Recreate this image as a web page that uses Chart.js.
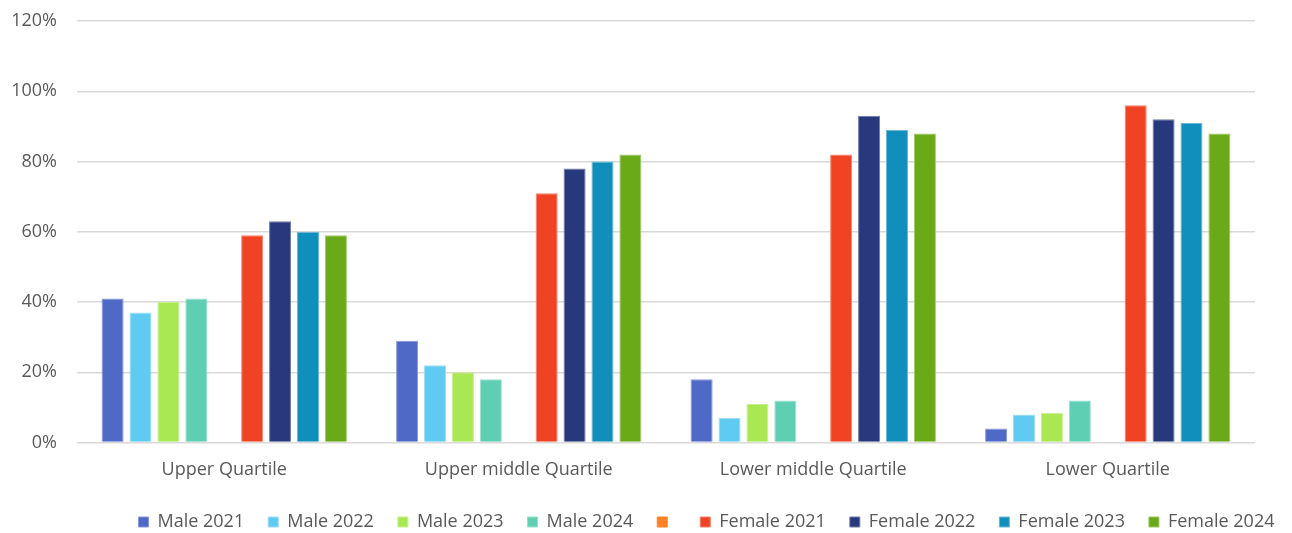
<!DOCTYPE html>
<html>
<head>
<meta charset="utf-8">
<script src="https://cdn.jsdelivr.net/npm/chart.js@4/dist/chart.umd.min.js"></script>
<style>
  html, body { margin: 0; padding: 0; background: #ffffff; }
  #wrap { width: 1292px; height: 533px; position: relative; }
</style>
</head>
<body>
<div id="wrap"><canvas id="c" width="1292" height="533"></canvas></div>
<script>
const categories = ["Upper Quartile", "Upper middle Quartile", "Lower middle Quartile", "Lower Quartile"];
const seriesNames = ["Male 2021", "Male 2022", "Male 2023", "Male 2024", "", "Female 2021", "Female 2022", "Female 2023", "Female 2024"];
const male2021 = [41, 29, 18, 4];
const male2022 = [37, 22, 7, 8];
const male2023 = [40, 20, 11, 8.5];
const male2024 = [41, 18, 12, 12];
const blankSeries = [null, null, null, null];
const female2021 = [59, 71, 82, 96];
const female2022 = [63, 78, 93, 92];
const female2023 = [60, 80, 89, 91];
const female2024 = [59, 82, 88, 88];
const yTicks = [0, 20, 40, 60, 80, 100, 120];

const seriesValues = [male2021, male2022, male2023, male2024, blankSeries, female2021, female2022, female2023, female2024];
const colors = ["#4F69C6", "#5FCBF2", "#A9E852", "#5ECFB2", "#FF8326", "#F04323", "#27397C", "#118FBC", "#6AA918"];
const borders = ["#8797D8", "#9DDDF6", "#C8F08F", "#9CE0CD", "#FF8326", "#F5806A", "#6F7CA6", "#6DB7D6", "#9FC866"];

const FONT = "'Open Sans', sans-serif";

const datasets = seriesNames.map((name, i) => ({
  label: name,
  data: seriesValues[i],
  backgroundColor: colors[i],
  borderColor: borders[i],
  borderWidth: 1,
  categoryPercentage: 0.853,
  barPercentage: 0.79
}));

const legendShift = {
  id: 'legendShift',
  afterLayout(chart) {
    if (chart.legend) {
      chart.legend.left += 79;
      chart.legend.right += 79;
    }
  }
};

new Chart(document.getElementById('c'), {
  type: 'bar',
  data: { labels: categories, datasets: datasets },
  plugins: [legendShift],
  options: {
    responsive: false,
    animation: false,
    devicePixelRatio: 1,
    layout: { padding: { left: 0, right: 37, top: 21, bottom: -8 } },
    plugins: {
      tooltip: { enabled: false },
      legend: {
        position: 'bottom',
        labels: {
          boxWidth: 10,
          boxHeight: 10,
          padding: 24,
          color: '#595959',
          font: { family: FONT, size: 18 }
        }
      }
    },
    scales: {
      x: {
        afterFit: (s) => { s.height = 46.4; },
        grid: { display: false },
        border: { display: false },
        ticks: { color: '#595959', padding: 8, font: { family: FONT, size: 18 } }
      },
      y: {
        min: 0,
        max: 120,
        afterFit: (s) => { s.width = 77; s.paddingTop = 0; s.paddingBottom = 0; },
        afterBuildTicks: (s) => { s.ticks = yTicks.map(v => ({ value: v })); },
        grid: { color: '#D9D9D9', lineWidth: 1.5, drawTicks: false },
        border: { display: false },
        ticks: {
          color: '#595959',
          padding: 20,
          font: { family: FONT, size: 18 },
          callback: (v) => v + '%'
        }
      }
    }
  }
});
</script>
</body>
</html>
